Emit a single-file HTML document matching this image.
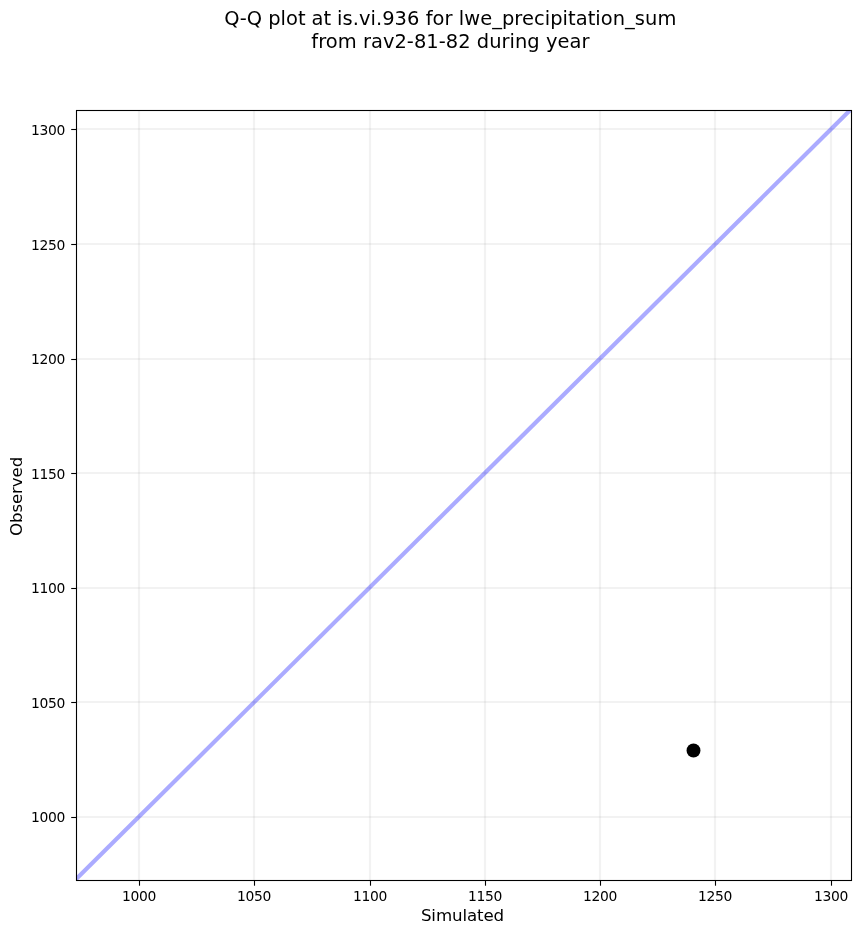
<!DOCTYPE html>
<html lang="en">
<head>
<meta charset="utf-8">
<title>Q-Q plot at is.vi.936 for lwe_precipitation_sum</title>
<style>
html,body{margin:0;padding:0;background:#fff;}
body{width:860px;height:934px;overflow:hidden;}
svg{display:block;will-change:transform;}
text{font-family:"DejaVu Sans","Liberation Sans",sans-serif;fill:#000;}
.tick{font-size:13.89px;}
.lab{font-size:16.67px;}
.ttl{font-size:19.44px;}
</style>
</head>
<body>
<svg width="860" height="934" viewBox="0 0 860 934">
<rect x="0" y="0" width="860" height="934" fill="#ffffff"/>
<defs><clipPath id="ax"><rect x="76.5" y="110.5" width="775" height="770"/></clipPath></defs>

<g stroke="#808080" stroke-opacity="0.1" stroke-width="2.08" clip-path="url(#ax)">
<line x1="139" y1="110.5" x2="139" y2="880.5"/>
<line x1="254" y1="110.5" x2="254" y2="880.5"/>
<line x1="370" y1="110.5" x2="370" y2="880.5"/>
<line x1="485" y1="110.5" x2="485" y2="880.5"/>
<line x1="600" y1="110.5" x2="600" y2="880.5"/>
<line x1="715" y1="110.5" x2="715" y2="880.5"/>
<line x1="831" y1="110.5" x2="831" y2="880.5"/>
<line x1="76.5" y1="129" x2="851.5" y2="129"/>
<line x1="76.5" y1="244" x2="851.5" y2="244"/>
<line x1="76.5" y1="359" x2="851.5" y2="359"/>
<line x1="76.5" y1="473" x2="851.5" y2="473"/>
<line x1="76.5" y1="588" x2="851.5" y2="588"/>
<line x1="76.5" y1="702" x2="851.5" y2="702"/>
<line x1="76.5" y1="817" x2="851.5" y2="817"/>
</g>
<g clip-path="url(#ax)"><line x1="54.6201" y1="900.5" x2="869.88" y2="90.5" stroke="#0000ff" stroke-opacity="0.33" stroke-width="4.17" stroke-linecap="butt"/>
<circle cx="693.5" cy="750.5" r="6.95" fill="#000"/></g>
<g stroke="#000" stroke-width="1.1">
<line x1="139.5" y1="880.5" x2="139.5" y2="885.7"/>
<line x1="254.5" y1="880.5" x2="254.5" y2="885.7"/>
<line x1="370.5" y1="880.5" x2="370.5" y2="885.7"/>
<line x1="485.5" y1="880.5" x2="485.5" y2="885.7"/>
<line x1="600.5" y1="880.5" x2="600.5" y2="885.7"/>
<line x1="715.5" y1="880.5" x2="715.5" y2="885.7"/>
<line x1="831.5" y1="880.5" x2="831.5" y2="885.7"/>
<line x1="71.2" y1="129.5" x2="76.5" y2="129.5"/>
<line x1="71.2" y1="244.5" x2="76.5" y2="244.5"/>
<line x1="71.2" y1="359.5" x2="76.5" y2="359.5"/>
<line x1="71.2" y1="473.5" x2="76.5" y2="473.5"/>
<line x1="71.2" y1="588.5" x2="76.5" y2="588.5"/>
<line x1="71.2" y1="702.5" x2="76.5" y2="702.5"/>
<line x1="71.2" y1="817.5" x2="76.5" y2="817.5"/>
</g>
<rect x="76.5" y="110.5" width="775" height="770" fill="none" stroke="#000" stroke-width="1.1"/>
<text class="tick" x="121.95" y="901.3" textLength="34.3" lengthAdjust="spacing">1000</text>
<text class="tick" x="236.95" y="901.3" textLength="34.3" lengthAdjust="spacing">1050</text>
<text class="tick" x="352.95" y="901.3" textLength="34.3" lengthAdjust="spacing">1100</text>
<text class="tick" x="467.95" y="901.3" textLength="34.3" lengthAdjust="spacing">1150</text>
<text class="tick" x="582.95" y="901.3" textLength="34.3" lengthAdjust="spacing">1200</text>
<text class="tick" x="697.95" y="901.3" textLength="34.3" lengthAdjust="spacing">1250</text>
<text class="tick" x="813.95" y="901.3" textLength="34.3" lengthAdjust="spacing">1300</text>
<text class="tick" x="30.99" y="134.8" textLength="34.3" lengthAdjust="spacing">1300</text>
<text class="tick" x="30.99" y="249.8" textLength="34.3" lengthAdjust="spacing">1250</text>
<text class="tick" x="30.99" y="363.8" textLength="34.3" lengthAdjust="spacing">1200</text>
<text class="tick" x="30.99" y="478.8" textLength="34.3" lengthAdjust="spacing">1150</text>
<text class="tick" x="30.99" y="592.8" textLength="34.3" lengthAdjust="spacing">1100</text>
<text class="tick" x="30.99" y="707.8" textLength="34.3" lengthAdjust="spacing">1050</text>
<text class="tick" x="30.99" y="821.8" textLength="34.3" lengthAdjust="spacing">1000</text>
<text class="lab" x="420.9" y="920.5" textLength="83.27" lengthAdjust="spacing">Simulated</text>
<text class="lab" transform="translate(22.3,536.07) rotate(-90)" textLength="79.34" lengthAdjust="spacing">Observed</text>
<text class="ttl" x="224.30" y="24.6" textLength="37.88" lengthAdjust="spacing">Q-Q</text>
<text class="ttl" x="268.17" y="24.6" textLength="37.42" lengthAdjust="spacing">plot</text>
<text class="ttl" x="311.52" y="24.6" textLength="19.59" lengthAdjust="spacing">at</text>
<text class="ttl" x="337.04" y="24.6" textLength="82.34" lengthAdjust="spacing">is.vi.936</text>
<text class="ttl" x="425.72" y="24.6" textLength="26.84" lengthAdjust="spacing">for</text>
<text class="ttl" x="458.74" y="24.6" textLength="217.61" lengthAdjust="spacing">lwe_precipitation_sum</text>
<text class="ttl" x="311.3" y="47.9" textLength="278.1" lengthAdjust="spacing">from rav2-81-82 during year</text>
</svg>
</body>
</html>
